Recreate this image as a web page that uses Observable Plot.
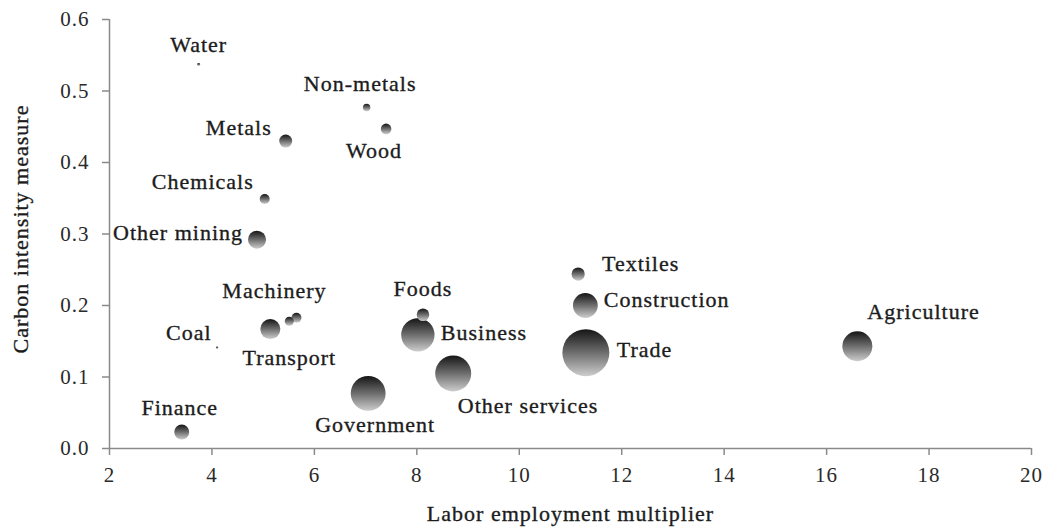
<!DOCTYPE html>
<html>
<head>
<meta charset="utf-8">
<script src="https://cdn.jsdelivr.net/npm/d3@7"></script>
<script src="https://cdn.jsdelivr.net/npm/@observablehq/plot@0.6"></script>
<style>
  html, body { margin: 0; padding: 0; background: #fff; }
</style>
</head>
<body>
<div id="chart"></div>
<script>
// ---- data ----
const sectors = ["Water","Non-metals","Wood","Metals","Chemicals","Other mining","Coal","Transport","Electrical","Machinery","Foods","Business","Other services","Government","Finance","Textiles","Construction","Trade","Agriculture"];
const laborMultiplier = [3.74,7.02,7.40,5.44,5.03,4.88,4.10,5.14,5.51,5.65,8.12,8.02,8.71,7.05,3.41,11.15,11.29,11.30,16.60];
const carbonIntensity = [0.537,0.477,0.447,0.430,0.349,0.292,0.141,0.167,0.178,0.183,0.187,0.159,0.105,0.077,0.023,0.244,0.200,0.134,0.143];
const bubbleSize = [0.44,2.7,5.5,8.3,4.9,16,0.28,19.8,4,4.9,7.8,55,64,60,11.1,8.6,30.4,109,44.4];
const showLabel = [true,true,true,true,true,true,true,true,false,true,true,true,true,true,true,true,true,true,true];
const xTicks = [2,4,6,8,10,12,14,16,18,20];
const yTicks = [0,0.1,0.2,0.3,0.4,0.5,0.6];
const xTitle = "Labor employment multiplier";
const yTitle = "Carbon intensity measure";

// ---- label layout (offsets from the bubble, in px) ----
const labelDx = [0,-6.5,-12,-14,-11,-14,-5.5,19,0,-22,0,23,4.6,7,-2,23.8,18.5,31,10];
const labelDy = [-20,-23,22,-13,-17,-7,-14.6,29,0,-26.6,-25.7,-2,33,32,-24,-10,-5.7,-2.4,-34];
const labelAnchor = ["middle","middle","middle","end","end","end","end","middle","middle","middle","middle","start","start","middle","middle","start","start","start","start"];

const rows = sectors.map((s, i) => ({
  sector: s, x: laborMultiplier[i], y: carbonIntensity[i], size: bubbleSize[i],
  show: showLabel[i], dx: labelDx[i], dy: labelDy[i], anchor: labelAnchor[i]
}));

const axisColor = "#8a8a8a";
const textColor = "#1c1c1c";
const textStroke = {stroke: textColor, strokeWidth: 0.35};

const labelMarks = rows.filter(d => d.show).map(d =>
  Plot.text([d], {x: "x", y: "y", text: "sector", dx: d.dx, dy: d.dy,
    textAnchor: d.anchor, lineAnchor: "middle", fontSize: 22, fill: textColor, ...textStroke})
);

const chart = Plot.plot({
  width: 1047,
  height: 529,
  marginLeft: 109,
  marginRight: 16,
  marginTop: 19,
  marginBottom: 81,
  style: {fontFamily: "'Liberation Serif', 'Times New Roman', serif", letterSpacing: "1px", background: "#fff"},
  x: {domain: [2, 20]},
  y: {domain: [0, 0.6]},
  r: {type: "sqrt", domain: [0, 100], range: [0, 22.5]},
  marks: [
    Plot.axisX({ticks: xTicks, tickSize: 7, tickPadding: 12, fontSize: 21, stroke: axisColor, strokeWidth: 1.5, color: "#2a2a2a", label: null, tickFormat: d3.format("d"), style: {letterSpacing: "1.5px"}}),
    Plot.axisY({ticks: yTicks, tickSize: 7, tickPadding: 13, fontSize: 21, stroke: axisColor, strokeWidth: 1.5, color: "#2a2a2a", label: null, tickFormat: d3.format(".1f"), style: {letterSpacing: "1.5px"}}),
    Plot.ruleX([2], {stroke: axisColor, strokeWidth: 1.5}),
    Plot.ruleY([0], {stroke: axisColor, strokeWidth: 1.5}),
    Plot.dot(rows, {x: "x", y: "y", r: "size", fill: "url(#bubbleGrad)", stroke: "none", sort: {channel: "r", order: "descending"}}),
    ...labelMarks,
    Plot.text([xTitle], {frameAnchor: "bottom", dy: 65, textAnchor: "middle", lineAnchor: "middle", fontSize: 22, fill: textColor, ...textStroke}),
    Plot.text([yTitle], {frameAnchor: "left", dx: -89, dy: -5, rotate: -90, textAnchor: "middle", lineAnchor: "middle", fontSize: 22, fill: textColor, ...textStroke})
  ]
});

// gradient used by the bubbles
const svg = d3.select(chart);
const defs = svg.insert("defs", ":first-child");
const grad = defs.append("linearGradient")
  .attr("id", "bubbleGrad").attr("x1", 0).attr("y1", 0).attr("x2", 0).attr("y2", 1);
grad.append("stop").attr("offset", "0%").attr("stop-color", "#151515");
grad.append("stop").attr("offset", "50%").attr("stop-color", "#6e6e6e");
grad.append("stop").attr("offset", "100%").attr("stop-color", "#cdcdcd");

document.getElementById("chart").appendChild(chart);
</script>
</body>
</html>
